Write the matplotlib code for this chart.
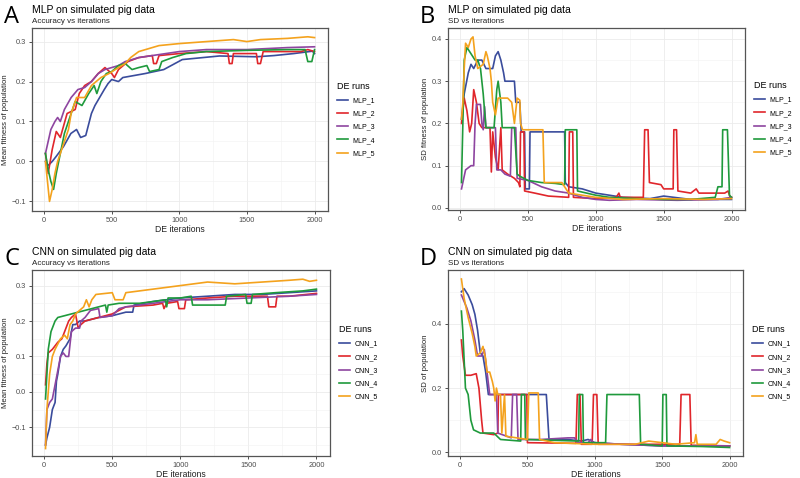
import matplotlib
matplotlib.use("Agg")
import matplotlib.pyplot as plt
from matplotlib.ticker import MultipleLocator

plt.rcParams['font.family'] = ['Liberation Sans', 'DejaVu Sans']

run_colors = ["#3a4c9c", "#e0262b", "#8e45a0", "#1f9a3c", "#f4a21d"]

# ---- Panel A: MLP mean fitness (hand-read points) ----
a1_x = [10, 30, 60, 88, 143, 198, 240, 270, 308, 350, 376, 445, 473, 500, 550, 582, 747, 885, 1022, 1297, 1571, 1700, 1846, 1984, 2000]
a1_y = [0.0, -0.01, 0.0, 0.012, 0.037, 0.07, 0.08, 0.06, 0.065, 0.12, 0.14, 0.18, 0.195, 0.205, 0.2, 0.21, 0.22, 0.23, 0.255, 0.264, 0.262, 0.265, 0.27, 0.276, 0.27]
a2_x = [10, 30, 60, 90, 120, 170, 230, 260, 300, 350, 400, 450, 500, 520, 550, 620, 700, 800, 810, 830, 850, 1000, 1200, 1360, 1370, 1390, 1400, 1570, 1580, 1600, 1620, 1900, 1950, 2000]
a2_y = [0.02, -0.03, 0.03, 0.075, 0.06, 0.12, 0.13, 0.17, 0.19, 0.2, 0.22, 0.235, 0.22, 0.21, 0.23, 0.25, 0.26, 0.265, 0.245, 0.245, 0.265, 0.27, 0.275, 0.27, 0.245, 0.245, 0.27, 0.27, 0.245, 0.245, 0.275, 0.275, 0.28, 0.275]
a3_x = [10, 30, 50, 80, 100, 120, 150, 200, 250, 300, 350, 400, 450, 550, 600, 700, 900, 1000, 1200, 1500, 1800, 2000]
a3_y = [0.02, 0.05, 0.08, 0.1, 0.11, 0.1, 0.13, 0.16, 0.18, 0.185, 0.2, 0.22, 0.23, 0.24, 0.25, 0.26, 0.27, 0.275, 0.28, 0.28, 0.285, 0.287]
a4_x = [10, 30, 50, 70, 90, 120, 150, 200, 230, 280, 330, 370, 390, 420, 460, 500, 550, 600, 650, 700, 760, 780, 850, 870, 950, 1050, 1200, 1500, 1800, 1930, 1950, 1980, 2000]
a4_y = [0.02, -0.02, -0.05, -0.07, -0.03, 0.02, 0.07, 0.12, 0.15, 0.14, 0.17, 0.19, 0.17, 0.2, 0.22, 0.225, 0.24, 0.245, 0.23, 0.235, 0.24, 0.225, 0.23, 0.25, 0.26, 0.27, 0.275, 0.278, 0.28, 0.28, 0.25, 0.25, 0.28]
a5_x = [10, 25, 40, 60, 80, 100, 150, 180, 200, 240, 300, 350, 420, 480, 550, 600, 640, 700, 850, 1000, 1200, 1400, 1500, 1600, 1800, 1950, 2000]
a5_y = [0.0, -0.05, -0.1, -0.07, -0.03, 0.0, 0.05, 0.08, 0.12, 0.16, 0.16, 0.19, 0.21, 0.22, 0.235, 0.245, 0.26, 0.275, 0.29, 0.295, 0.3, 0.305, 0.3, 0.305, 0.308, 0.312, 0.31]

# ---- Panel B: MLP SD ----
b1_x = [10, 30, 60, 80, 100, 130, 160, 190, 240, 260, 280, 300, 320, 330, 400, 410, 440, 450, 475, 480, 510, 515, 770, 775, 800, 900, 1000, 1100, 1200, 1400, 1500, 1700, 1900, 2000]
b1_y = [0.21, 0.27, 0.32, 0.34, 0.33, 0.35, 0.35, 0.33, 0.33, 0.36, 0.37, 0.35, 0.32, 0.3, 0.3, 0.25, 0.25, 0.18, 0.18, 0.045, 0.045, 0.18, 0.18, 0.06, 0.05, 0.045, 0.035, 0.03, 0.025, 0.022, 0.028, 0.02, 0.02, 0.02]
b2_x = [10, 30, 50, 70, 85, 100, 120, 140, 160, 220, 230, 240, 260, 280, 300, 310, 350, 400, 430, 440, 445, 470, 475, 550, 650, 800, 805, 830, 835, 1000, 1150, 1170, 1180, 1350, 1360, 1385, 1395, 1480, 1500, 1570, 1575, 1595, 1605, 1700, 1740, 1760, 1950, 1975, 1990, 2000]
b2_y = [0.2, 0.26, 0.23, 0.18, 0.2, 0.28, 0.25, 0.2, 0.19, 0.19, 0.085, 0.18, 0.12, 0.09, 0.19, 0.09, 0.08, 0.07, 0.06, 0.05, 0.18, 0.18, 0.04, 0.035, 0.028, 0.025, 0.18, 0.18, 0.025, 0.022, 0.025, 0.035, 0.025, 0.025, 0.185, 0.185, 0.06, 0.055, 0.045, 0.045, 0.185, 0.185, 0.04, 0.035, 0.045, 0.035, 0.035, 0.04, 0.025, 0.025]
b3_x = [10, 20, 40, 60, 80, 100, 110, 120, 150, 160, 170, 180, 190, 260, 270, 300, 330, 370, 380, 410, 420, 500, 600, 700, 800, 900, 1000, 1100, 1300, 1600, 1900, 2000]
b3_y = [0.045, 0.06, 0.09, 0.095, 0.1, 0.1, 0.2, 0.245, 0.245, 0.2, 0.185, 0.24, 0.19, 0.19, 0.09, 0.09, 0.08, 0.075, 0.19, 0.19, 0.07, 0.065, 0.05, 0.04, 0.035, 0.025, 0.02, 0.018, 0.02, 0.018, 0.02, 0.025]
b4_x = [10, 20, 30, 50, 70, 90, 110, 130, 150, 170, 190, 250, 270, 280, 300, 310, 400, 420, 440, 500, 600, 700, 770, 775, 860, 865, 1000, 1100, 1300, 1500, 1700, 1880, 1900, 1930, 1935, 1970, 1985, 2000]
b4_y = [0.06, 0.2, 0.35, 0.38, 0.37, 0.36, 0.35, 0.35, 0.33, 0.27, 0.19, 0.19, 0.28, 0.3, 0.25, 0.19, 0.19, 0.08, 0.075, 0.065, 0.06, 0.058, 0.055, 0.185, 0.185, 0.04, 0.03, 0.025, 0.022, 0.02, 0.02, 0.025, 0.05, 0.05, 0.185, 0.185, 0.03, 0.025]
b5_x = [10, 20, 30, 40, 60, 80, 95, 110, 130, 170, 190, 200, 220, 230, 240, 260, 280, 350, 380, 400, 420, 440, 445, 460, 610, 620, 750, 770, 800, 1000, 1200, 1500, 1800, 2000]
b5_y = [0.21, 0.25, 0.33, 0.39, 0.38, 0.4, 0.405, 0.36, 0.33, 0.34, 0.37, 0.36, 0.33, 0.3, 0.25, 0.22, 0.26, 0.26, 0.25, 0.2, 0.26, 0.255, 0.2, 0.185, 0.185, 0.06, 0.06, 0.05, 0.035, 0.025, 0.02, 0.022, 0.02, 0.022]

# ---- Panel C: CNN mean fitness ----
c1_x = [10, 20, 40, 60, 80, 90, 100, 120, 140, 160, 190, 210, 230, 260, 300, 400, 500, 600, 650, 660, 800, 900, 1000, 1200, 1400, 1600, 1800, 2000]
c1_y = [-0.15, -0.13, -0.1, -0.05, -0.03, 0.03, 0.05, 0.1, 0.12, 0.13, 0.15, 0.19, 0.19, 0.2, 0.2, 0.21, 0.215, 0.225, 0.225, 0.245, 0.255, 0.26, 0.265, 0.27, 0.275, 0.275, 0.28, 0.285]
c2_x = [10, 20, 30, 60, 100, 130, 150, 180, 200, 230, 250, 270, 300, 400, 500, 600, 800, 870, 880, 900, 980, 990, 1030, 1040, 1200, 1400, 1640, 1650, 1700, 1710, 1800, 2000]
c2_y = [0.02, 0.08, 0.11, 0.12, 0.14, 0.15, 0.17, 0.2, 0.21, 0.22, 0.18, 0.19, 0.2, 0.21, 0.22, 0.24, 0.245, 0.25, 0.235, 0.25, 0.255, 0.235, 0.235, 0.26, 0.265, 0.27, 0.27, 0.24, 0.24, 0.27, 0.27, 0.278]
c3_x = [10, 20, 40, 60, 80, 100, 120, 140, 160, 180, 200, 230, 260, 270, 300, 320, 340, 400, 410, 500, 550, 600, 800, 1000, 1200, 1500, 1800, 2000]
c3_y = [-0.15, -0.05, -0.03, -0.02, 0.02, 0.06, 0.1, 0.11, 0.1, 0.1, 0.17, 0.18, 0.18, 0.2, 0.21, 0.22, 0.23, 0.235, 0.21, 0.215, 0.235, 0.24, 0.25, 0.26, 0.26, 0.265, 0.27, 0.275]
c4_x = [10, 20, 30, 50, 80, 100, 150, 200, 300, 400, 450, 460, 470, 550, 700, 800, 890, 900, 910, 1000, 1080, 1090, 1330, 1340, 1480, 1490, 1520, 1530, 1700, 1900, 2000]
c4_y = [-0.02, 0.05, 0.12, 0.17, 0.2, 0.21, 0.215, 0.22, 0.23, 0.24, 0.245, 0.225, 0.245, 0.25, 0.25, 0.255, 0.26, 0.24, 0.265, 0.265, 0.27, 0.245, 0.245, 0.27, 0.275, 0.25, 0.25, 0.275, 0.28, 0.285, 0.29]
c5_x = [10, 20, 40, 60, 80, 120, 150, 170, 190, 210, 230, 260, 290, 310, 330, 350, 380, 500, 520, 580, 600, 700, 900, 1100, 1200, 1400, 1600, 1800, 1900, 1950, 2000]
c5_y = [-0.16, -0.05, 0.05, 0.1, 0.12, 0.15, 0.16, 0.15, 0.19, 0.2, 0.22, 0.23, 0.24, 0.26, 0.24, 0.26, 0.275, 0.28, 0.26, 0.26, 0.28, 0.285, 0.295, 0.305, 0.31, 0.305, 0.31, 0.315, 0.318, 0.312, 0.315]

# ---- Panel D: CNN SD ----
d1_x = [10, 30, 60, 90, 110, 130, 150, 170, 190, 210, 640, 660, 800, 900, 950, 1000, 1200, 1500, 1800, 2000]
d1_y = [0.5, 0.51, 0.49, 0.46, 0.43, 0.38, 0.31, 0.3, 0.25, 0.18, 0.18, 0.04, 0.04, 0.035, 0.04, 0.03, 0.025, 0.02, 0.02, 0.02]
d2_x = [10, 20, 40, 80, 120, 140, 160, 170, 250, 280, 285, 495, 500, 860, 870, 890, 900, 980, 990, 1015, 1025, 1630, 1640, 1705, 1715, 2000]
d2_y = [0.35, 0.3, 0.24, 0.24, 0.245, 0.2, 0.1, 0.06, 0.055, 0.06, 0.18, 0.18, 0.03, 0.028, 0.18, 0.18, 0.025, 0.025, 0.18, 0.18, 0.025, 0.025, 0.18, 0.18, 0.022, 0.02]
d3_x = [10, 50, 80, 110, 130, 160, 180, 200, 220, 270, 280, 380, 390, 420, 430, 600, 800, 850, 870, 950, 970, 990, 1200, 1500, 2000]
d3_y = [0.49, 0.45, 0.41, 0.35, 0.3, 0.3, 0.32, 0.25, 0.18, 0.18, 0.06, 0.045, 0.18, 0.18, 0.04, 0.04, 0.045, 0.045, 0.03, 0.03, 0.04, 0.03, 0.025, 0.02, 0.02]
d4_x = [10, 20, 40, 60, 80, 100, 150, 200, 250, 300, 450, 455, 480, 485, 880, 885, 910, 915, 1080, 1090, 1330, 1340, 1500, 1505, 1530, 1535, 1800, 2000]
d4_y = [0.44, 0.38, 0.2, 0.18, 0.1, 0.07, 0.06, 0.06, 0.06, 0.04, 0.035, 0.18, 0.18, 0.04, 0.035, 0.18, 0.18, 0.03, 0.03, 0.18, 0.18, 0.025, 0.02, 0.18, 0.18, 0.02, 0.018, 0.015]
d5_x = [10, 30, 60, 90, 110, 120, 150, 170, 190, 200, 220, 240, 250, 260, 270, 280, 300, 310, 330, 340, 500, 510, 580, 590, 700, 1000, 1300, 1400, 1500, 1600, 1740, 1750, 1760, 1900, 1930, 1960, 2000]
d5_y = [0.54, 0.48, 0.42, 0.37, 0.33, 0.3, 0.31, 0.33, 0.29, 0.25, 0.25, 0.22, 0.2, 0.16, 0.2, 0.18, 0.18, 0.06, 0.18, 0.05, 0.04, 0.185, 0.185, 0.04, 0.03, 0.025, 0.025, 0.035, 0.03, 0.025, 0.03, 0.055, 0.025, 0.025, 0.04, 0.035, 0.03]

panels = [
    ("A", "MLP on simulated pig data", "Accuracy vs iterations", "Mean fitness of population", "MLP",
     [(a1_x, a1_y), (a2_x, a2_y), (a3_x, a3_y), (a4_x, a4_y), (a5_x, a5_y)],
     [32, 211, 296, 183], (-0.124, 0.334), 0.1),
    ("B", "MLP on simulated pig data", "SD vs iterations", "SD fitness of population", "MLP",
     [(b1_x, b1_y), (b2_x, b2_y), (b3_x, b3_y), (b4_x, b4_y), (b5_x, b5_y)],
     [448, 210, 297, 182], (-0.005, 0.426), 0.1),
    ("C", "CNN on simulated pig data", "Accuracy vs iterations", "Mean fitness of population", "CNN",
     [(c1_x, c1_y), (c2_x, c2_y), (c3_x, c3_y), (c4_x, c4_y), (c5_x, c5_y)],
     [32, 456, 298, 186], (-0.181, 0.344), 0.1),
    ("D", "CNN on simulated pig data", "SD vs iterations", "SD of population", "CNN",
     [(d1_x, d1_y), (d2_x, d2_y), (d3_x, d3_y), (d4_x, d4_y), (d5_x, d5_y)],
     [448, 456, 295, 186], (-0.0115, 0.568), 0.2),
]

W, H = 800, 478
fig = plt.figure(figsize=(8, 4.78), dpi=100)

for letter, title, sub, ylab, prefix, series, box, ylim, ystep in panels:
    left, bottom, w, h = box
    ax = fig.add_axes([left / W, (H - bottom) / H, w / W, h / H])
    for i, (xs, ys) in enumerate(series):
        ax.plot(xs, ys, color=run_colors[i], lw=1.2, label=f"{prefix}_{i + 1}")
    ax.set_xlim(-89.5, 2099.5)
    ax.set_ylim(*ylim)
    ax.xaxis.set_major_locator(MultipleLocator(500))
    ax.xaxis.set_minor_locator(MultipleLocator(250))
    ax.yaxis.set_major_locator(MultipleLocator(ystep))
    ax.yaxis.set_minor_locator(MultipleLocator(ystep / 2))
    ax.grid(which="major", color="#ebebeb", lw=0.6)
    ax.grid(which="minor", color="#f2f2f2", lw=0.4)
    ax.set_axisbelow(True)
    for s in ax.spines.values():
        s.set_color("#555555")
        s.set_linewidth(0.9)
    ax.tick_params(which="major", length=2.5, width=0.6, color="#333333", labelsize=5.3, labelcolor="#4d4d4d", pad=1.5)
    ax.tick_params(which="minor", length=0)
    ax.set_xlabel("DE iterations", fontsize=6.2, labelpad=1, color="#222222")
    ax.set_ylabel(ylab, fontsize=5.6, labelpad=2, color="#222222")
    ax.text(0, 1.0 + 15 / h, title, transform=ax.transAxes, fontsize=7.5, ha="left", va="baseline")
    ax.text(0, 1.0 + 5 / h, sub, transform=ax.transAxes, fontsize=5.8, ha="left", va="baseline", color="#222222")
    fig.text((left - 28) / W, (H - bottom + h - 1) / H, letter, fontsize=17, family="Open Sans", ha="left", va="bottom")
    leg = ax.legend(loc="center left", bbox_to_anchor=(1.01, 0.5), frameon=False, fontsize=5,
                    title="DE runs", title_fontsize=6.5, handlelength=1.6, labelspacing=0.9, handletextpad=0.6)
    leg._legend_box.align = "left"

fig.savefig("out.png", dpi=100)
